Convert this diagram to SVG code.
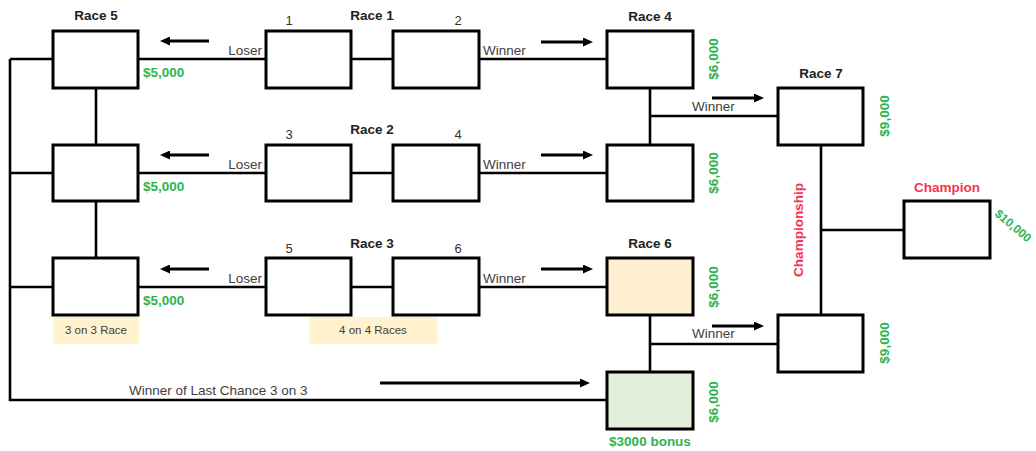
<svg xmlns="http://www.w3.org/2000/svg" width="1036" height="451" viewBox="0 0 1036 451">
<style>
  .box{fill:#fff;stroke:#000;stroke-width:3}
  .ln{stroke:#000;stroke-width:2.6;fill:none}
  .arr{stroke:#000;stroke-width:3;fill:none}
  .t{font-family:"Liberation Sans",Arial,sans-serif}
  .title{font-size:13.5px;font-weight:bold;fill:#222;text-anchor:middle}
  .num{font-size:13px;fill:#333;text-anchor:middle}
  .lbl{font-size:13.5px;fill:#404040}
  .money{font-size:13.5px;font-weight:bold;fill:#2DB450}
  .red{font-size:13.5px;font-weight:bold;fill:#F5334F}
  .tag{font-size:11.5px;fill:#404040;text-anchor:middle}
</style>
<defs>
  <marker id="ah" markerUnits="userSpaceOnUse" markerWidth="10" markerHeight="9" refX="0" refY="4.5" orient="auto">
    <path d="M0,0 L10,4.5 L0,9 z" fill="#000"/>
  </marker>
</defs>
<rect width="1036" height="451" fill="#fff"/>

<g id="connectors">
  <path class="ln" d="M10,59 V400 H607 M10,59 H53 M10,173 H53 M10,287 H53"/>
  <path class="ln" d="M96,88 V145 M96,201 V258"/>
  <path class="ln" d="M138,59 H266 M351,59 H393 M479,59 H607"/>
  <path class="ln" d="M138,173 H266 M351,173 H393 M479,173 H607"/>
  <path class="ln" d="M138,287 H266 M351,287 H393 M479,287 H607"/>
  <path class="ln" d="M650,88 V145 M650,116 H778"/>
  <path class="ln" d="M650,315 V372 M650,344 H778"/>
  <path class="ln" d="M821,145 V315 M821,230 H904"/>
  <line class="arr" x1="209" y1="41" x2="170" y2="41" marker-end="url(#ah)"/>
  <line class="arr" x1="209" y1="155" x2="170" y2="155" marker-end="url(#ah)"/>
  <line class="arr" x1="209" y1="269" x2="170" y2="269" marker-end="url(#ah)"/>
  <line class="arr" x1="541" y1="42" x2="583" y2="42" marker-end="url(#ah)"/>
  <line class="arr" x1="541" y1="155" x2="583" y2="155" marker-end="url(#ah)"/>
  <line class="arr" x1="541" y1="269" x2="583" y2="269" marker-end="url(#ah)"/>
  <line class="arr" x1="712" y1="98" x2="754" y2="98" marker-end="url(#ah)"/>
  <line class="arr" x1="712" y1="326" x2="754" y2="326" marker-end="url(#ah)"/>
  <line class="arr" x1="380" y1="383" x2="580" y2="383" marker-end="url(#ah)"/>
</g>

<g id="race5">
  <text class="t title" x="96" y="20">Race 5</text>
  <rect class="box" x="53" y="31" width="85" height="57"/>
  <rect class="box" x="53" y="145" width="85" height="56"/>
  <rect class="box" x="53" y="258" width="85" height="57"/>
  <text class="t money" x="143" y="77">$5,000</text>
  <text class="t money" x="143" y="191">$5,000</text>
  <text class="t money" x="143" y="305">$5,000</text>
  <rect x="53" y="317" width="86" height="27" fill="#FFF2CC"/>
  <text class="t tag" x="96" y="334">3 on 3 Race</text>
</g>

<g id="race1">
  <text class="t title" x="372" y="20">Race 1</text>
  <text class="t num" x="289" y="25">1</text>
  <text class="t num" x="458" y="25">2</text>
  <rect class="box" x="266" y="31" width="85" height="57"/>
  <rect class="box" x="393" y="31" width="86" height="57"/>
  <text class="t lbl" x="262" y="55" text-anchor="end">Loser</text>
  <text class="t lbl" x="483" y="55">Winner</text>
</g>

<g id="race2">
  <text class="t title" x="372" y="134">Race 2</text>
  <text class="t num" x="289" y="139">3</text>
  <text class="t num" x="458" y="139">4</text>
  <rect class="box" x="266" y="145" width="85" height="56"/>
  <rect class="box" x="393" y="145" width="86" height="56"/>
  <text class="t lbl" x="262" y="169" text-anchor="end">Loser</text>
  <text class="t lbl" x="483" y="169">Winner</text>
</g>

<g id="race3">
  <text class="t title" x="372" y="248">Race 3</text>
  <text class="t num" x="289" y="253">5</text>
  <text class="t num" x="458" y="253">6</text>
  <rect class="box" x="266" y="258" width="85" height="57"/>
  <rect class="box" x="393" y="258" width="86" height="57"/>
  <text class="t lbl" x="262" y="283" text-anchor="end">Loser</text>
  <text class="t lbl" x="483" y="283">Winner</text>
  <rect x="309" y="317" width="128" height="27" fill="#FFF2CC"/>
  <text class="t tag" x="373" y="334">4 on 4 Races</text>
</g>

<g id="race4">
  <text class="t title" x="650" y="21">Race 4</text>
  <rect class="box" x="607" y="31" width="86" height="57"/>
  <rect class="box" x="607" y="145" width="86" height="56"/>
  <text class="t money" text-anchor="middle" transform="translate(713,59) rotate(-90)" y="5">$6,000</text>
  <text class="t money" text-anchor="middle" transform="translate(713,173) rotate(-90)" y="5">$6,000</text>
  <text class="t lbl" x="692" y="111">Winner</text>
</g>

<g id="race6">
  <text class="t title" x="650" y="248">Race 6</text>
  <rect class="box" x="607" y="258" width="86" height="57" style="fill:#FDEFCF"/>
  <text class="t money" text-anchor="middle" transform="translate(713,287) rotate(-90)" y="5">$6,000</text>
  <text class="t lbl" x="692" y="338">Winner</text>
</g>

<g id="lastchance">
  <rect class="box" x="607" y="372" width="86" height="57" style="fill:#E2EFDA"/>
  <text class="t money" text-anchor="middle" transform="translate(713,402) rotate(-90)" y="5">$6,000</text>
  <text class="t money" x="650" y="446" text-anchor="middle">$3000 bonus</text>
  <text class="t lbl" x="129" y="395">Winner of Last Chance 3 on 3</text>
</g>

<g id="race7">
  <text class="t title" x="821" y="78">Race 7</text>
  <rect class="box" x="778" y="88" width="85" height="57"/>
  <rect class="box" x="778" y="315" width="85" height="57"/>
  <text class="t money" text-anchor="middle" transform="translate(884,116) rotate(-90)" y="5">$9,000</text>
  <text class="t money" text-anchor="middle" transform="translate(884,343) rotate(-90)" y="5">$9,000</text>
  <text class="t red" text-anchor="middle" transform="translate(798,230) rotate(-90)" y="5">Championship</text>
</g>

<g id="champion">
  <text class="t red" x="947" y="192" text-anchor="middle">Champion</text>
  <rect class="box" x="904" y="201" width="86" height="57"/>
  <text class="t money" style="font-size:12px" transform="translate(994,215) rotate(40)">$10,000</text>
</g>
</svg>
